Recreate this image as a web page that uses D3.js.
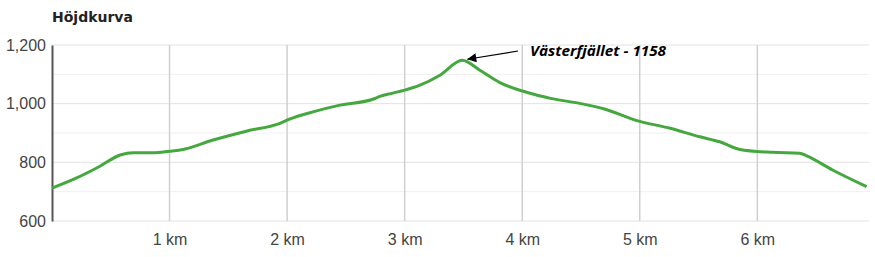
<!DOCTYPE html>
<html>
<head>
<meta charset="utf-8">
<script src="https://cdn.jsdelivr.net/npm/d3@7"></script>
<style>
  body { margin: 0; background: #fff; }
  svg { display: block; }
</style>
</head>
<body>
<div id="chart"></div>
<script>
// distance along the trail (km) and elevation (m)
var distances = [0, 0.20, 0.40, 0.58, 0.69, 0.86, 1.00, 1.09, 1.37, 1.66, 1.94, 2.02, 2.22, 2.45, 2.73, 2.79, 2.90,
                 3.00, 3.13, 3.30, 3.49, 3.64, 3.81, 4.00, 4.09, 4.24, 4.49, 4.70, 4.96, 5.26, 5.51, 5.68,
                 5.85, 6.13, 6.36, 6.42, 6.64, 6.93];
var elevations = [712, 745, 785, 825, 833, 833, 838, 842, 876, 907, 933, 947, 972, 995, 1015, 1025, 1036,
                  1046, 1063, 1097, 1148, 1114, 1072, 1043, 1033, 1018, 1001, 982, 944, 916, 887, 870,
                  844, 834, 831, 822, 774, 717];
var yTicks = [600, 800, 1000, 1200];
var yMinor = [700, 900, 1100];
var xTicks = [1, 2, 3, 4, 5, 6];
var peakName = "Västerfjället - 1158";
var peakIndex = 20;

var width = 875, height = 257;
var margin = { left: 52, right: 6, top: 45, bottom: 36 };

var svg = d3.select("#chart").append("svg")
    .attr("width", width)
    .attr("height", height);

var x = d3.scaleLinear()
    .domain([0, 6.95])
    .range([margin.left, width - margin.right]);

var y = d3.scaleLinear()
    .domain([600, 1200])
    .range([height - margin.bottom, margin.top]);

// title
svg.append("text")
    .attr("x", 52)
    .attr("y", 22)
    .attr("font-family", "DejaVu Sans, Verdana, sans-serif")
    .attr("font-size", 14)
    .attr("font-weight", "bold")
    .attr("fill", "#222")
    .text("Höjdkurva");

// minor horizontal grid
svg.append("g").selectAll("line")
    .data(yMinor)
    .enter().append("line")
    .attr("x1", x(0)).attr("x2", x.range()[1])
    .attr("y1", function (d) { return y(d); })
    .attr("y2", function (d) { return y(d); })
    .attr("stroke", "#f0f0f0");

// major horizontal grid
svg.append("g").selectAll("line")
    .data(yTicks)
    .enter().append("line")
    .attr("x1", x(0)).attr("x2", x.range()[1])
    .attr("y1", function (d) { return y(d); })
    .attr("y2", function (d) { return y(d); })
    .attr("stroke", "#e2e2e2");

// vertical grid
svg.append("g").selectAll("line")
    .data(xTicks)
    .enter().append("line")
    .attr("x1", function (d) { return x(d); })
    .attr("x2", function (d) { return x(d); })
    .attr("y1", y(1200)).attr("y2", y(600))
    .attr("stroke", "#d0d0d0")
    .attr("stroke-width", 1.5);

// y axis
var yAxis = svg.append("g")
    .attr("transform", "translate(" + margin.left + ",0)")
    .call(d3.axisLeft(y).tickValues(yTicks).tickSize(0).tickPadding(6)
        .tickFormat(d3.format(",")));
yAxis.select(".domain").attr("stroke", "#555").attr("stroke-width", 2);
yAxis.selectAll("text")
    .attr("font-family", "Liberation Sans, Arial, sans-serif")
    .attr("font-size", 16)
    .attr("fill", "#444");

// x axis
var xAxis = svg.append("g")
    .attr("transform", "translate(0," + y(600) + ")")
    .call(d3.axisBottom(x).tickValues(xTicks).tickSize(0).tickPadding(13)
        .tickFormat(function (d) { return d + " km"; }));
xAxis.select(".domain").remove();
xAxis.selectAll("text")
    .attr("font-family", "Liberation Sans, Arial, sans-serif")
    .attr("font-size", 16)
    .attr("fill", "#444");

// elevation line
var line = d3.line()
    .x(function (d, i) { return x(distances[i]); })
    .y(function (d) { return y(d); })
    .curve(d3.curveMonotoneX);

svg.append("path")
    .datum(elevations)
    .attr("d", line)
    .attr("fill", "none")
    .attr("stroke", "#44a83f")
    .attr("stroke-width", 3)
    .attr("stroke-linejoin", "round");

// peak annotation
svg.append("defs").append("marker")
    .attr("id", "arrow")
    .attr("viewBox", "0 0 10 10")
    .attr("refX", 10).attr("refY", 5)
    .attr("markerWidth", 14).attr("markerHeight", 9)
    .attr("markerUnits", "userSpaceOnUse")
    .attr("orient", "auto")
    .append("path")
    .attr("d", "M0,0L10,5L0,10Z")
    .attr("fill", "#000");

var px = x(distances[peakIndex]) + 5, py = y(elevations[peakIndex]) - 1;
svg.append("line")
    .attr("x1", 518).attr("y1", 51)
    .attr("x2", px).attr("y2", py)
    .attr("stroke", "#000")
    .attr("stroke-width", 1.2)
    .attr("marker-end", "url(#arrow)");

svg.append("text")
    .attr("x", 530)
    .attr("y", 56)
    .attr("font-family", "Open Sans, sans-serif")
    .attr("font-size", 15)
    .attr("font-weight", "bold")
    .attr("font-style", "italic")
    .attr("fill", "#000")
    .attr("textLength", 136)
    .attr("lengthAdjust", "spacingAndGlyphs")
    .text(peakName);
</script>
</body>
</html>
